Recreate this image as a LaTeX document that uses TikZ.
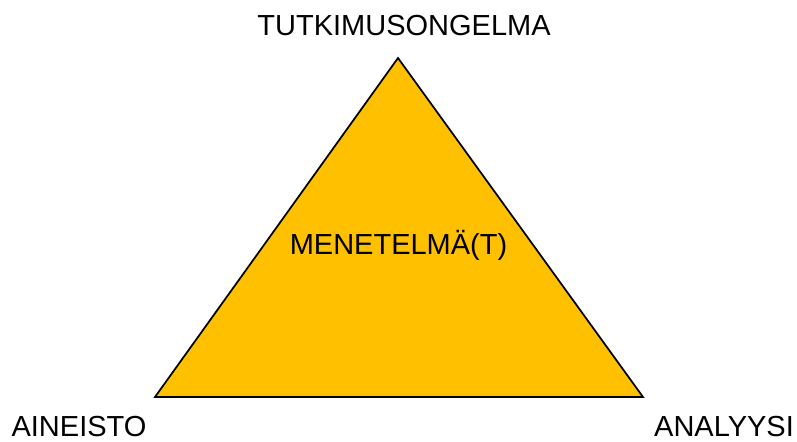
\documentclass[tikz,border=0pt]{standalone}
\usepackage{fontspec}
\setmainfont{Liberation Sans}
\usepackage{tikz}
\usetikzlibrary{positioning}
\definecolor{methodfill}{HTML}{FFC000}

\begin{document}
\begin{tikzpicture}[x=0.75pt,y=-0.75pt,
  corner/.style={font=\fontsize{21.75}{26}\selectfont,inner sep=0pt,anchor=base},
  triangle/.style={draw=black,line width=1.3pt,fill=methodfill,line join=miter}
]
  \useasboundingbox (0,0) rectangle (797,442);
  \coordinate (apex) at (398,58);
  \coordinate (baseleft) at (155,397);
  \coordinate (baseright) at (643,397);
  \draw[triangle] (apex) -- (baseright) -- (baseleft) -- cycle;
  \node[corner] (problem) at (404,36) {TUTKIMUSONGELMA};
  \node[corner] (data) at (79,436) {AINEISTO};
  \node[corner] (analysis) at (724,436) {ANALYYSI};
  \node[corner] (method) at (398.5,255) {MENETELMÄ(T)};
\end{tikzpicture}
\end{document}
